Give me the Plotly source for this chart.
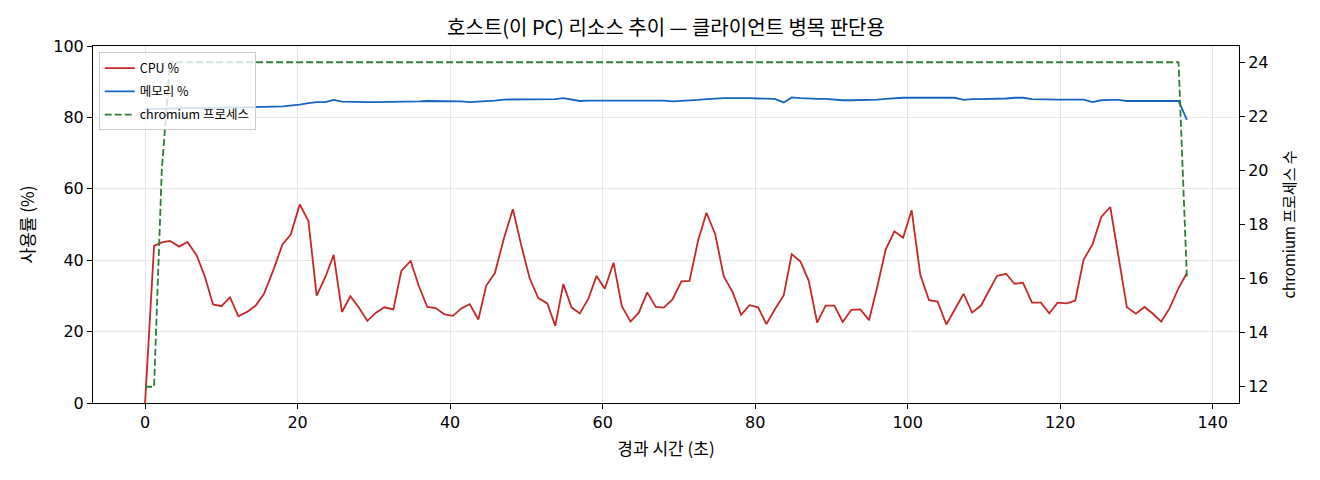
import plotly.graph_objects as go

# elapsed time of each sample (s)
elapsed = [
    0.0, 1.18, 2.19, 3.28, 4.46, 5.56, 6.78, 7.86, 8.91, 10.01,
    11.14, 12.24, 13.42, 14.51, 15.60, 16.83, 18.01, 19.10, 20.28, 21.42,
    22.50, 23.64, 24.73, 25.82, 26.92, 28.05, 29.15, 30.28, 31.38, 32.56,
    33.60, 34.82, 35.91, 37.01, 38.10, 39.28, 40.37, 41.47, 42.56, 43.70,
    44.74, 45.87, 47.05, 48.23, 49.37, 50.42, 51.56, 52.74, 53.79, 54.84,
    55.92, 57.01, 58.15, 59.20, 60.29, 61.43, 62.52, 63.66, 64.74, 65.85,
    66.97, 68.02, 69.16, 70.34, 71.39, 72.53, 73.62, 74.76, 75.88, 77.06,
    78.16, 79.25, 80.39, 81.48, 82.57, 83.75, 84.80, 85.94, 87.02, 88.13,
    89.25, 90.39, 91.48, 92.62, 93.80, 94.94, 96.03, 97.12, 98.26, 99.40,
    100.52, 101.66, 102.80, 103.93, 105.07, 106.16, 107.34, 108.44, 109.62, 110.62,
    111.72, 112.90, 114.02, 115.12, 116.30, 117.48, 118.57, 119.66, 120.89, 121.98,
    123.07, 124.25, 125.39, 126.57, 127.65, 128.75, 129.93, 131.06, 132.16, 133.25,
    134.34, 135.52, 136.62,
]

cpu = [
    0, 44.0, 45.0, 45.4, 43.8, 45.1, 41.3, 35.3, 27.6, 27.1,
    29.6, 24.3, 25.6, 27.3, 30.6, 37.3, 44.4, 47.2, 55.6, 51.0,
    30.1, 35.3, 41.5, 25.5, 29.9, 26.7, 23.0, 25.3, 26.8, 26.2,
    37.0, 39.8, 32.7, 26.9, 26.6, 24.8, 24.4, 26.5, 27.7, 23.4,
    32.9, 36.4, 46.1, 54.3, 43.8, 35.0, 29.4, 27.9, 21.6, 33.3,
    26.8, 25.1, 29.3, 35.6, 32.0, 39.3, 27.1, 22.8, 25.3, 31.0,
    26.9, 26.7, 29.0, 34.1, 34.2, 45.6, 53.3, 47.3, 35.5, 31.0,
    24.7, 27.4, 26.8, 22.1, 26.2, 30.2, 41.7, 39.6, 34.3, 22.5,
    27.3, 27.3, 22.7, 26.1, 26.2, 23.2, 32.7, 43.0, 48.1, 46.3,
    54.0, 35.9, 28.8, 28.4, 22.0, 26.2, 30.6, 25.3, 27.3, 31.3,
    35.6, 36.2, 33.4, 33.7, 28.1, 28.1, 25.1, 28.1, 27.9, 28.7,
    40.1, 44.5, 52.1, 54.9, 41.0, 26.8, 25.0, 26.9, 25.0, 22.8,
    26.5, 32.2, 36.4,
]

memory = [
    82.3, 82.4, 82.5, 82.5, 82.6, 82.6, 82.6, 82.7, 82.7, 82.7,
    82.8, 82.8, 82.8, 82.9, 82.9, 83.0, 83.1, 83.3, 83.6, 84.0,
    84.3, 84.3, 84.9, 84.4, 84.3, 84.4, 84.3, 84.3, 84.3, 84.4,
    84.5, 84.5, 84.5, 84.6, 84.6, 84.6, 84.6, 84.5, 84.3, 84.4,
    84.6, 84.7, 85.0, 85.0, 85.1, 85.1, 84.9, 85.0, 85.1, 85.4,
    85.0, 84.6, 84.7, 84.7, 84.6, 84.8, 84.8, 84.8, 84.8, 84.8,
    84.7, 84.7, 84.5, 84.6, 84.7, 84.9, 85.1, 85.3, 85.4, 85.4,
    85.5, 85.4, 85.3, 85.3, 85.2, 84.2, 85.6, 85.4, 85.2, 85.2,
    85.2, 84.9, 84.8, 84.8, 84.8, 84.9, 85.0, 85.2, 85.4, 85.5,
    85.5, 85.5, 85.5, 85.5, 85.4, 85.5, 84.9, 85.1, 85.1, 85.1,
    85.2, 85.3, 85.5, 85.5, 85.1, 85.0, 85.0, 85.0, 85.0, 85.0,
    85.0, 84.3, 84.8, 84.9, 84.9, 84.6, 84.6, 84.7, 84.7, 84.7,
    84.6, 84.6, 79.3,
]

chromium = [12, 12, 20] + [24] * 118 + [24, 16]

FONT = "Noto Sans CJK KR, Noto Sans, DejaVu Sans, sans-serif"
TICK_FONT = dict(family="DejaVu Sans", size=16, color="black")

fig = go.Figure()
fig.add_trace(go.Scatter(x=elapsed, y=cpu, name="CPU %", mode="lines", legendgroup="a",
                         line=dict(color="#c62828", width=1.8)))
fig.add_trace(go.Scatter(x=elapsed, y=memory, name="메모리 %", mode="lines", legendgroup="b",
                         line=dict(color="#1565c0", width=1.8)))
fig.add_trace(go.Scatter(x=elapsed, y=chromium, name="chromium 프로세스", mode="lines",
                         legendgroup="c", yaxis="y2",
                         line=dict(color="#2e7d32", width=1.8, dash="7px,3px")))

axis_common = dict(
    showline=True, linecolor="black", linewidth=1,
    ticks="outside", ticklen=5, tickcolor="black", tickwidth=1,
    tickfont=TICK_FONT, zeroline=False,
)

fig.update_layout(
    width=1320, height=480,
    margin=dict(l=93, r=81, t=46, b=77),
    paper_bgcolor="white", plot_bgcolor="white",
    font=dict(family=FONT, color="black"),
    title=dict(text="호스트(이 PC) 리소스 추이 — 클라이언트 병목 판단용",
               x=0.5, xref="paper", xanchor="center",
               y=1 - 28 / 480, yref="container", yanchor="middle",
               font=dict(size=20, color="black")),
    xaxis=dict(range=[-6.83, 143.45], tickvals=[0, 20, 40, 60, 80, 100, 120, 140],
               mirror=True, showgrid=True, gridcolor="#e6e6e6",
               title=dict(text="경과 시간 (초)", font=dict(size=17), standoff=11),
               **axis_common),
    yaxis=dict(range=[0, 100], tickvals=[0, 20, 40, 60, 80, 100],
               mirror=True, showgrid=True, gridcolor="#e6e6e6",
               title=dict(text="사용률 (%)", font=dict(size=17), standoff=14),
               **axis_common),
    yaxis2=dict(range=[11.4, 24.6], tickvals=[12, 14, 16, 18, 20, 22, 24],
                overlaying="y", side="right", showgrid=False,
                title=dict(text="chromium 프로세스 수", font=dict(size=15), standoff=16),
                **axis_common),
    legend=dict(x=0.005, y=0.982, xanchor="left", yanchor="top",
                bgcolor="rgba(255,255,255,0.8)", bordercolor="#cccccc", borderwidth=1,
                tracegroupgap=4, font=dict(size=12.5, color="black")),
    showlegend=True,
)

fig.write_html("out.html", config={"displayModeBar": False},
               post_script="document.body.style.margin='0';")
